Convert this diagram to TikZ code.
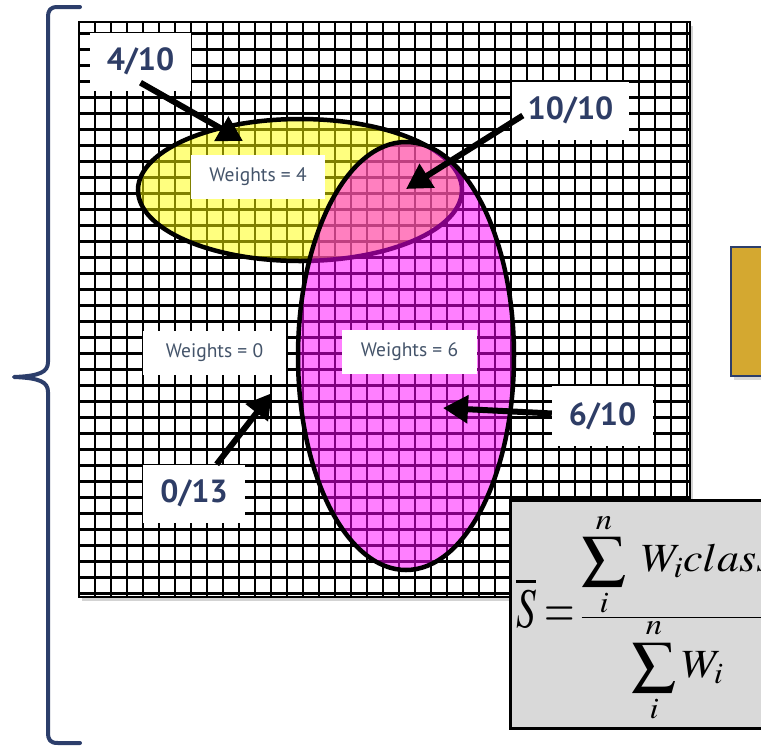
\documentclass[tikz,border=0pt]{standalone}
\usepackage{mathptmx}
\usepackage[no-math]{fontspec}
\usepackage{graphicx}
\newfontfamily\labelfont{PT Sans}
\usetikzlibrary{arrows.meta,shadows}
\definecolor{labelnavy}{HTML}{2E3D66}
\definecolor{weightnavy}{HTML}{44546A}
\definecolor{bracketnavy}{HTML}{2C3E6B}
\definecolor{boxgold}{HTML}{D4A830}
\definecolor{formulagray}{HTML}{D9D9D9}
\definecolor{classyellow}{HTML}{FFFF00}
\definecolor{classmagenta}{HTML}{FF00FF}
\newcommand{\fracpart}[1]{\hbox{\fontsize{40}{48}\selectfont$\displaystyle #1$}}
\tikzset{
  gridline/.style={black, line width=2.5pt},
  gridframe/.style={black, line width=2.5pt},
  yellowarea/.style={draw=black, line width=4.5pt, fill=classyellow, fill opacity=0.5},
  magentaarea/.style={draw=black, line width=4.5pt, fill=classmagenta, fill opacity=0.5},
  scorebox/.style={fill=white, text=labelnavy, inner sep=0pt, minimum height=58pt, font=\labelfont\bfseries\fontsize{32}{36}\selectfont},
  weightbox/.style={fill=white, text=weightnavy, inner sep=0pt, minimum height=44pt, font=\labelfont\fontsize{19.5}{22}\selectfont},
  pointer/.style={black, line width=6pt, -{Triangle[length=25pt,width=27pt]}},
  goldbox/.style={draw=bracketnavy, line width=2pt, fill=boxgold, drop shadow={opacity=0.3, shadow xshift=3pt, shadow yshift=-4pt}},
  formulabox/.style={draw=black, line width=3pt, fill=formulagray},
  mathpart/.style={inner sep=0pt, anchor=base west},
  bracket/.style={bracketnavy, line width=4pt, line cap=round, line join=round}
}
\begin{document}
\begin{tikzpicture}[x=1pt, y=-1pt]
  \useasboundingbox (0,0) rectangle (761,748);
  % grid sheet
  \fill[white, drop shadow={opacity=0.35, shadow xshift=3pt, shadow yshift=-4pt}] (79,22) rectangle (690,597);
  \foreach \k in {0,...,38}
    \draw[gridline] ({79+16*\k},22) -- ({79+16*\k},597);
  \foreach \k in {0,...,35}
    \draw[gridline] (79,{33.3+16*\k}) -- (690,{33.3+16*\k});
  \draw[gridframe] (79,22) rectangle (690,597);
  % the two classes
  \draw[yellowarea] (300,190) ellipse [x radius=162, y radius=71];
  \draw[magentaarea] (406,356) ellipse [x radius=108, y radius=214];
  % labels
  \node[weightbox, minimum width=134pt] (w4) at (258,177) {Weights = 4};
  \node[weightbox, minimum width=143pt] (w0) at (214.5,352.5) {Weights = 0};
  \node[weightbox, minimum width=135pt] (w6) at (409.5,351.5) {Weights = 6};
  \node[scorebox, minimum width=101pt] (s410) at (140.5,61.5) {4/10};
  \node[scorebox, minimum width=117pt] (s1010) at (570.5,110.5) {10/10};
  \node[scorebox, minimum width=102pt] (s013) at (194,493.5) {0/13};
  \node[scorebox, minimum width=101pt, minimum height=60pt] (s610) at (602.5,416) {6/10};
  % arrows
  \coordinate (p410) at (243,141);
  \coordinate (p1010) at (406,189);
  \coordinate (p013) at (272,393);
  \coordinate (p610) at (443,408);
  \draw[pointer] ([yshift=8pt]s410.south) -- (p410);
  \draw[pointer] ([xshift=11pt,yshift=-5pt]s1010.west) -- (p1010);
  \draw[pointer] (s013) -- (p013);
  \draw[pointer] (s610) -- (p610);
  % right panels
  \node[goldbox, minimum width=40pt, minimum height=129pt] (goldpanel) at (751,311.5) {};
  \node[formulabox, minimum width=265pt, minimum height=228pt] (formulapanel) at (642.5,614) {};
  \node[mathpart] (meanlhs) at (516,627)
    {\fontsize{56}{66}\selectfont\scalebox{0.7}[1]{$\overline{S}=$}};
  \node[mathpart] (meanfrac) at (580,620)
    {\scalebox{1.1}[1]{$\frac{\fracpart{\sum_i^n\;W_i class}}{\fracpart{\sum_i^n W_i}}$}};
  % brace
  \draw[bracket] (80,7) -- (58,7) .. controls (50,7) and (48,10) .. (48,18) -- (48,362)
    .. controls (48,372) and (40,376) .. (14,377)
    .. controls (40,378) and (48,382) .. (48,392) -- (48,732)
    .. controls (48,740) and (50,743) .. (58,743) -- (80,743);
\end{tikzpicture}
\end{document}
